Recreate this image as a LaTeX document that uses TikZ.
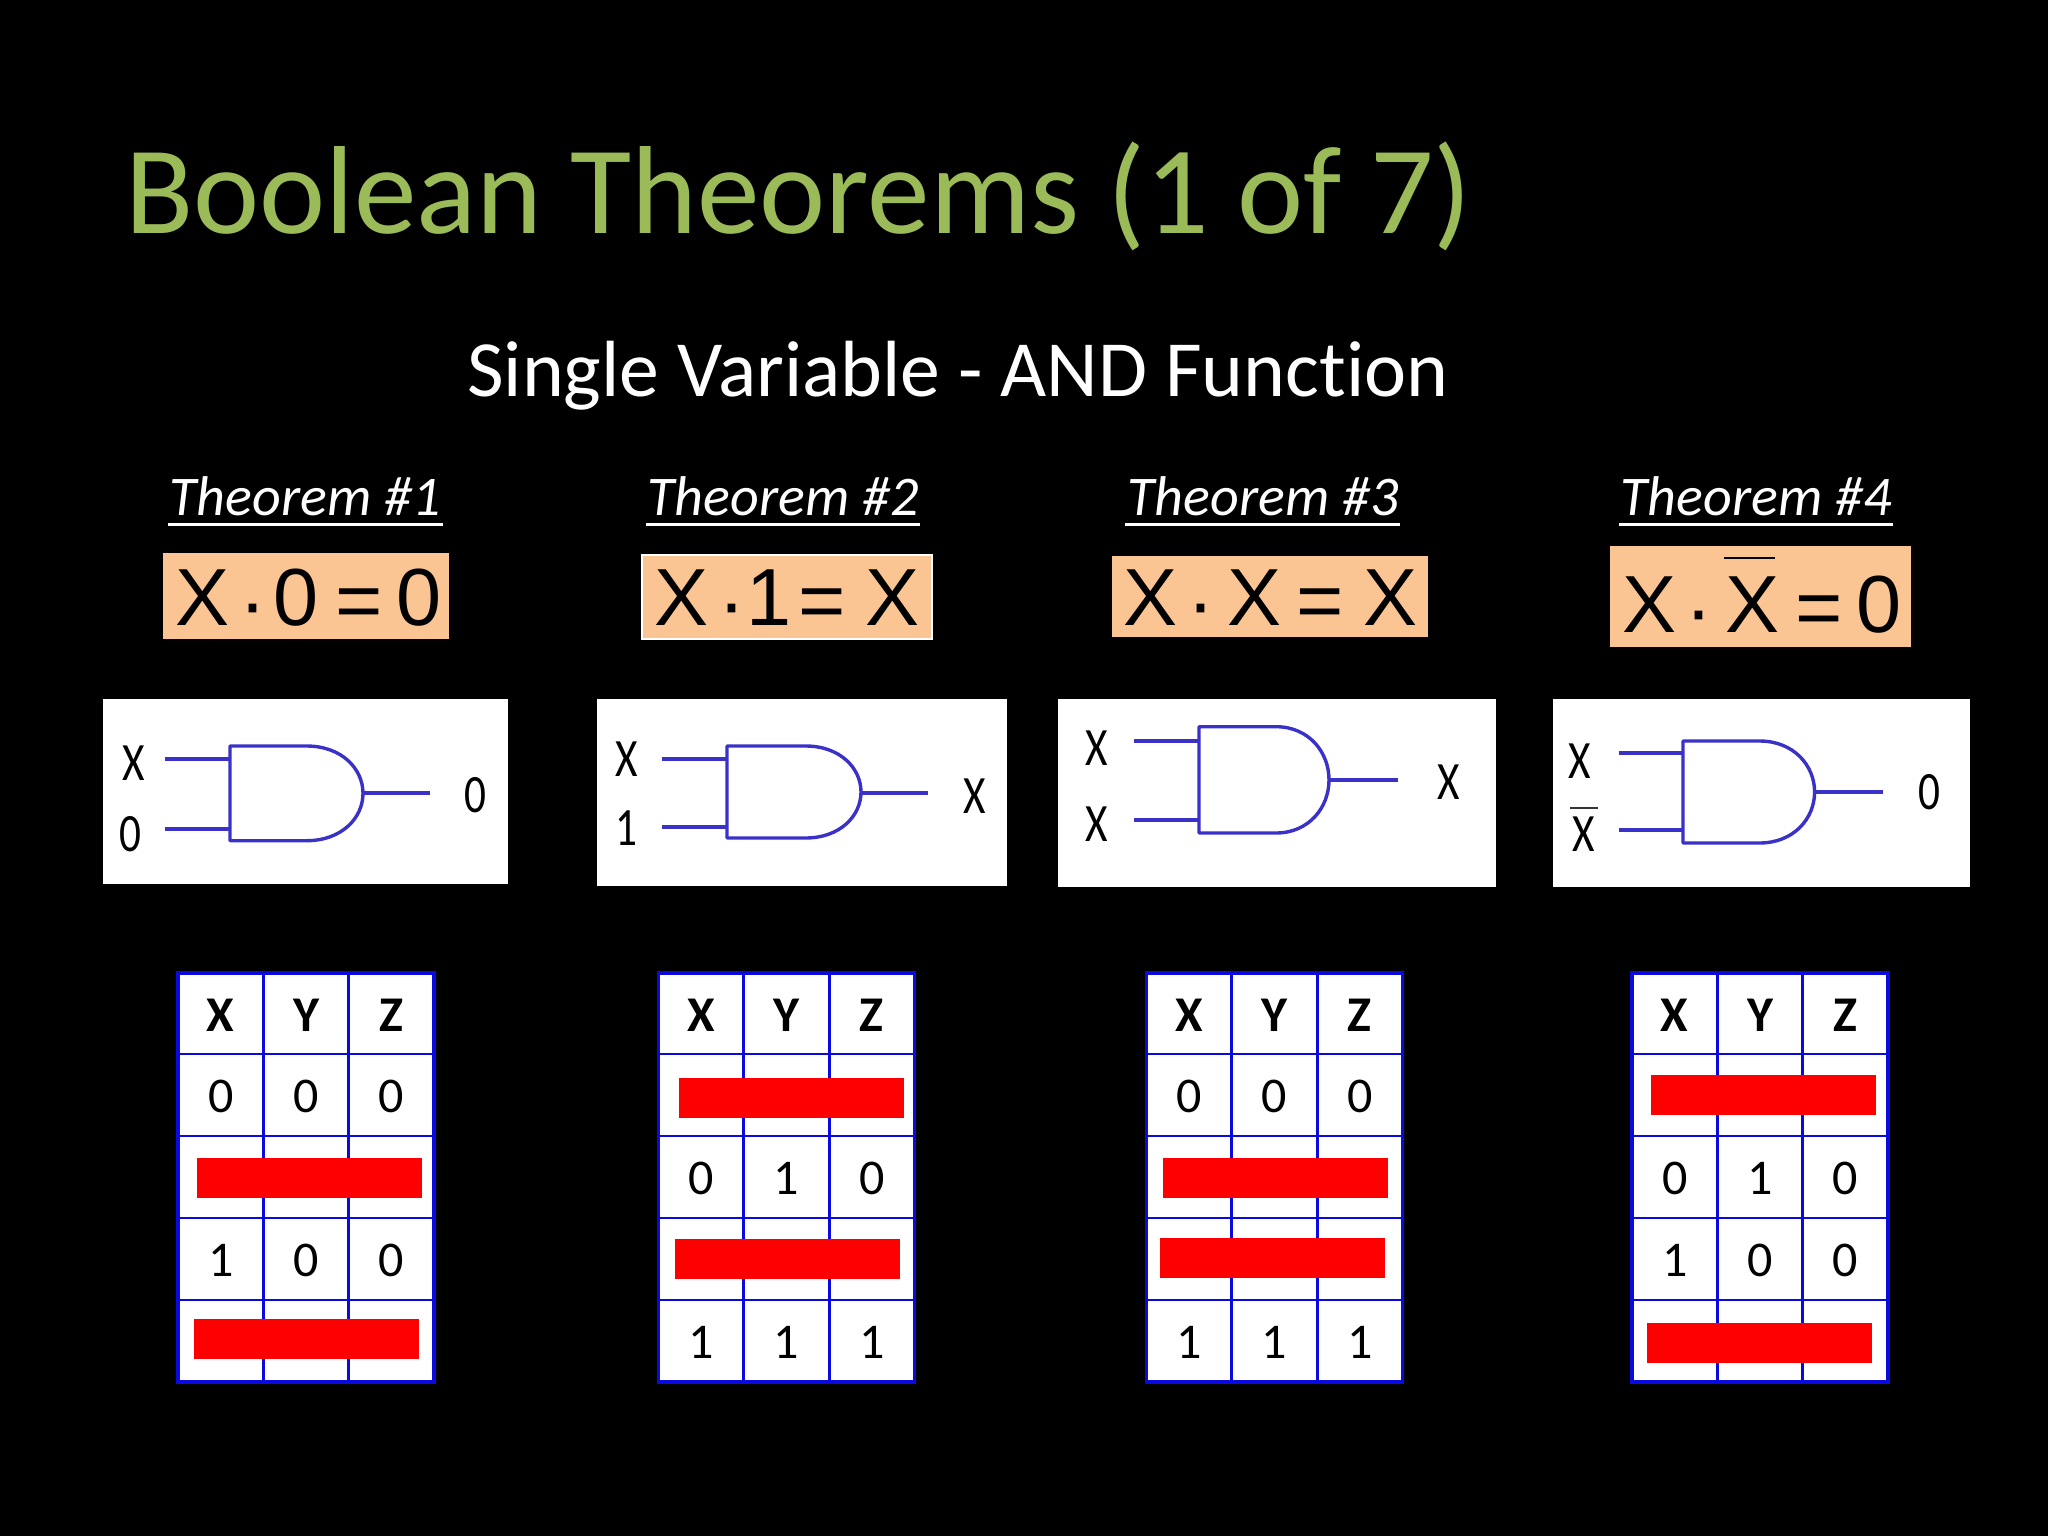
\documentclass[tikz,border=0pt]{standalone}
\usepackage{fontspec}
\setmainfont[Ligatures=NoCommon]{Carlito}
\newfontfamily\arialfont{Liberation Sans}
\definecolor{titlegreen}{HTML}{9BBB59}
\definecolor{peach}{HTML}{FBC593}
\definecolor{gateblue}{HTML}{3A32C8}
\definecolor{tableblue}{HTML}{0A0AE0}
\definecolor{barred}{HTML}{FF0000}
\newcommand{\fs}[1]{\fontsize{#1}{#1}\selectfont}
% gate body: left, arc start, right, top, bottom
\newcommand{\andgate}[5]{%
  \draw[gatebody] (#1,#4) -- (#2,#4)
    .. controls ({#2+0.62*(#3-#2)},#4) and (#3,{#4+0.24*(#5-#4)}) .. (#3,{0.5*(#4+#5)})
    .. controls (#3,{#5-0.24*(#5-#4)}) and ({#2+0.62*(#3-#2)},#5) .. (#2,#5)
    -- (#1,#5) -- cycle;
}
\newcommand{\wires}[8]{%
  \coordinate (#1a1) at (#2,#3); \coordinate (#1b1) at (#4,#3);
  \coordinate (#1a2) at (#2,#5); \coordinate (#1b2) at (#4,#5);
  \coordinate (#1o1) at (#6,#7); \coordinate (#1o2) at (#8,#7);
  \draw[wire] (#1a1) -- (#1b1);
  \draw[wire] (#1a2) -- (#1b2);
  \draw[wire] (#1o1) -- (#1o2);
}
\newcommand{\ttable}[2]{%
  \fill[white] (#2,973) rectangle ++(256,409);
  \foreach \i in {1,2} \draw[tline] ({#2+85.3*\i},973) -- ++(0,409);
  \foreach \j in {1054,1136,1218,1300} \draw[tline] (#2,\j) -- ++(256,0);
  \draw[tline,line width=3.4pt] (#2,973) rectangle ++(256,409);
  \node[hcell] (#1hx) at ({#2+42.7},1015) {X};
  \node[hcell] (#1hy) at ({#2+128},1015) {Y};
  \node[hcell] (#1hz) at ({#2+213.3},1015) {Z};
}
\newcommand{\tvals}[6]{%
  \node[cell] (#1a) at ({#2+42.7},#3) {#4};
  \node[cell] (#1b) at ({#2+128},#3) {#5};
  \node[cell] (#1c) at ({#2+213.3},#3) {#6};
}
\tikzset{
  gatebody/.style={draw=gateblue,line width=3.4pt,line join=round},
  wire/.style={draw=gateblue,line width=3.8pt},
  tline/.style={draw=tableblue,line width=2.8pt},
  hcell/.style={inner sep=0pt,font=\fs{50}\bfseries,text=black},
  cell/.style={inner sep=0pt,font=\fs{50},text=black},
  thm/.style={inner sep=0pt,anchor=base,font=\fs{56}\itshape,text=white},
  thmline/.style={draw=white,line width=3pt},
  eqn/.style={inner sep=0pt,anchor=base,font=\arialfont\fs{81},text=black},
  glbl/.style={inner sep=0pt,font=\fs{54},text=black},
  peachbox/.style={fill=peach},
  panel/.style={fill=white},
  barrect/.style={fill=barred},
  ovl/.style={draw=black,line width=2.4pt}
}
\begin{document}
\begin{tikzpicture}[x=1pt,y=-1pt]
\fill[black] (0,0) rectangle (2048,1536);
\useasboundingbox (0,0) rectangle (2048,1536);
\node[inner sep=0pt,anchor=base west,font=\fs{125.3},text=titlegreen] (title) at (125,233) {Boolean Theorems (1 of 7)};
\node[inner sep=0pt,anchor=base west,font=\fs{79.7},text=white] (subtitle) at (467,396) {Single Variable - AND Function};
% Theorem headings
\node[thm] (t1) at (305,515) {Theorem \#1};
\node[thm] (t2) at (783,515) {Theorem \#2};
\node[thm] (t3) at (1263,515) {Theorem \#3};
\node[thm] (t4) at (1756,515) {Theorem \#4};
\draw[thmline] (168,524) -- (442.5,524);
\draw[thmline] (646,524) -- (920,524);
\draw[thmline] (1125,524) -- (1399.5,524);
\draw[thmline] (1619,524) -- (1893,524);
% Equation boxes
\fill[peachbox] (163,553) rectangle (449,639);
\fill[peachbox,draw=white,line width=1.5pt] (642,555) rectangle (932,639);
\fill[peachbox] (1112,556) rectangle (1428,637);
\fill[peachbox] (1610,546) rectangle (1911,647);
\node[eqn] (e1a) at (202.5,625) {X};
\node[eqn] (e1b) at (252.7,630) {·};
\node[eqn] (e1c) at (296,625) {0};
\node[eqn] (e1d) at (359,628) {=};
\node[eqn] (e1e) at (418.6,625) {0};
\node[eqn] (e2a) at (682,625) {X};
\node[eqn] (e2b) at (732,630) {·};
\node[eqn] (e2c) at (769,625) {1};
\node[eqn] (e2d) at (822,628) {=};
\node[eqn] (e2e) at (892.6,625) {X};
\node[eqn] (e3a) at (1150,625) {X};
\node[eqn] (e3b) at (1201,630) {·};
\node[eqn] (e3c) at (1254,625) {X};
\node[eqn] (e3d) at (1320.5,628) {=};
\node[eqn] (e3e) at (1390,625) {X};
\node[eqn] (e4a) at (1649,632) {X};
\node[eqn] (e4b) at (1699,637) {·};
\node[eqn] (e4c) at (1752,632) {X};
\node[eqn] (e4d) at (1819,635) {=};
\node[eqn] (e4e) at (1879,632) {0};
\draw[ovl] (1724,558) -- (1775,558);
% Gate panels
\fill[panel] (103,699) rectangle (508,884);
\fill[panel] (597,699) rectangle (1007,886);
\fill[panel] (1058,699) rectangle (1496,887);
\fill[panel] (1553,699) rectangle (1970,887);
\wires{ga}{164.5}{759.3}{230}{828.7}{363}{793.3}{430}
\andgate{230}{306.6}{363}{746}{840.7}
\wires{gb}{661.7}{759}{727}{827}{861}{792.7}{928}
\andgate{727}{805.6}{861}{746}{838}
\wires{gc}{1133.7}{741}{1199}{820}{1329}{780}{1397.6}
\andgate{1199}{1276}{1329}{726.7}{833}
\wires{gd}{1618.7}{753}{1683}{830}{1814.6}{791.7}{1882.6}
\andgate{1683}{1759.5}{1814.6}{741}{843}
\node[glbl] (l1a) at (134,763) {\scalebox{0.8}[1]{X}};
\node[glbl] (l1b) at (130,834) {\scalebox{0.8}[1]{0}};
\node[glbl] (l1c) at (475,795) {\scalebox{0.8}[1]{0}};
\node[glbl] (l2a) at (627,759) {\scalebox{0.8}[1]{X}};
\node[glbl] (l2b) at (626,828) {\scalebox{0.8}[1]{1}};
\node[glbl] (l2c) at (975,796) {\scalebox{0.8}[1]{X}};
\node[glbl] (l3a) at (1097,748) {\scalebox{0.8}[1]{X}};
\node[glbl] (l3b) at (1097,824) {\scalebox{0.8}[1]{X}};
\node[glbl] (l3c) at (1449,782) {\scalebox{0.8}[1]{X}};
\node[glbl] (l4a) at (1580,761) {\scalebox{0.8}[1]{X}};
\node[glbl] (l4b) at (1584,834) {\scalebox{0.8}[1]{X}};
\node[glbl] (l4c) at (1929,792) {\scalebox{0.8}[1]{0}};
\draw[draw=black!80,line width=2pt] (1570,808) -- (1598,808);
% Truth tables
\ttable{ta}{178}
\tvals{ta1}{178}{1096}{0}{0}{0}
\tvals{ta3}{178}{1260}{1}{0}{0}
\fill[barrect] (197,1158) rectangle (422,1198);
\fill[barrect] (194,1319) rectangle (419,1359);
\ttable{tb}{658.5}
\tvals{tb2}{658.5}{1178}{0}{1}{0}
\tvals{tb4}{658.5}{1342}{1}{1}{1}
\fill[barrect] (679.4,1078) rectangle (904.4,1118);
\fill[barrect] (675.3,1239) rectangle (900.3,1279);
\ttable{tc}{1146.5}
\tvals{tc1}{1146.5}{1096}{0}{0}{0}
\tvals{tc4}{1146.5}{1342}{1}{1}{1}
\fill[barrect] (1163,1158) rectangle (1388,1198);
\fill[barrect] (1160,1238) rectangle (1385,1278);
\ttable{td}{1632}
\tvals{td2}{1632}{1178}{0}{1}{0}
\tvals{td3}{1632}{1260}{1}{0}{0}
\fill[barrect] (1651,1075) rectangle (1876,1115);
\fill[barrect] (1647,1323) rectangle (1872,1363);
\end{tikzpicture}
\end{document}
